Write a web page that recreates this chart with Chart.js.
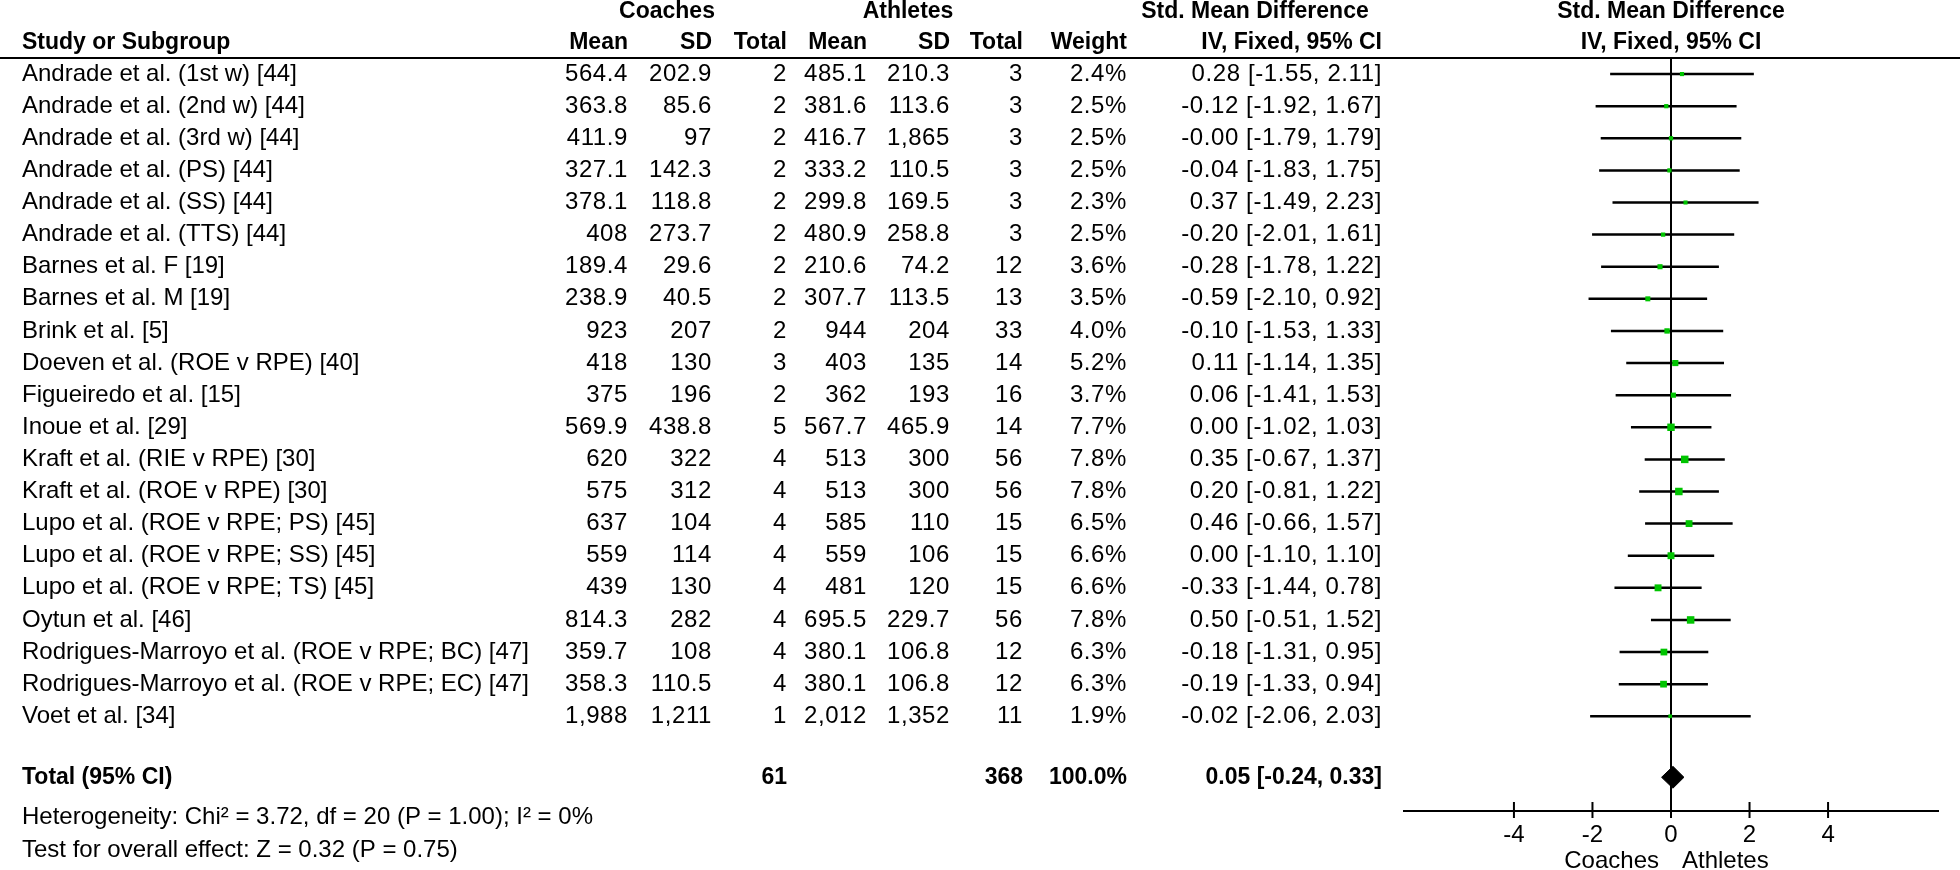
<!DOCTYPE html>
<html>
<head>
<meta charset="utf-8">
<title>Forest plot – Coaches vs Athletes</title>
<script src="https://cdn.jsdelivr.net/npm/chart.js@4.4.1/dist/chart.umd.min.js"></script>
<style>
  html, body { margin: 0; padding: 0; background: #fff; }
  #wrap { width: 1960px; height: 870px; }
</style>
</head>
<body>
<div id="wrap"><canvas id="forest" width="1960" height="870"></canvas></div>
<script>
// forest.js – Coaches vs Athletes, std. mean difference (IV, fixed)

const studies = [
  "Andrade et al. (1st w) [44]",
  "Andrade et al. (2nd w) [44]",
  "Andrade et al. (3rd w) [44]",
  "Andrade et al. (PS) [44]",
  "Andrade et al. (SS) [44]",
  "Andrade et al. (TTS) [44]",
  "Barnes et al. F [19]",
  "Barnes et al. M [19]",
  "Brink et al. [5]",
  "Doeven et al. (ROE v RPE) [40]",
  "Figueiredo et al. [15]",
  "Inoue et al. [29]",
  "Kraft et al. (RIE v RPE) [30]",
  "Kraft et al. (ROE v RPE) [30]",
  "Lupo et al. (ROE v RPE; PS) [45]",
  "Lupo et al. (ROE v RPE; SS) [45]",
  "Lupo et al. (ROE v RPE; TS) [45]",
  "Oytun et al. [46]",
  "Rodrigues-Marroyo et al. (ROE v RPE; BC) [47]",
  "Rodrigues-Marroyo et al. (ROE v RPE; EC) [47]",
  "Voet et al. [34]",
];

const coachMean = ["564.4","363.8","411.9","327.1","378.1","408","189.4","238.9","923","418","375","569.9","620","575","637","559","439","814.3","359.7","358.3","1,988"];
const coachSD   = ["202.9","85.6","97","142.3","118.8","273.7","29.6","40.5","207","130","196","438.8","322","312","104","114","130","282","108","110.5","1,211"];
const coachN    = [2,2,2,2,2,2,2,2,2,3,2,5,4,4,4,4,4,4,4,4,1];
const athMean   = ["485.1","381.6","416.7","333.2","299.8","480.9","210.6","307.7","944","403","362","567.7","513","513","585","559","481","695.5","380.1","380.1","2,012"];
const athSD     = ["210.3","113.6","1,865","110.5","169.5","258.8","74.2","113.5","204","135","193","465.9","300","300","110","106","120","229.7","106.8","106.8","1,352"];
const athN      = [3,3,3,3,3,3,12,13,33,14,16,14,56,56,15,15,15,56,12,12,11];
const weights   = [2.4,2.5,2.5,2.5,2.3,2.5,3.6,3.5,4.0,5.2,3.7,7.7,7.8,7.8,6.5,6.6,6.6,7.8,6.3,6.3,1.9];
const smd       = [0.28,-0.12,-0.00,-0.04,0.37,-0.20,-0.28,-0.59,-0.10,0.11,0.06,0.00,0.35,0.20,0.46,0.00,-0.33,0.50,-0.18,-0.19,-0.02];
const ciLow     = [-1.55,-1.92,-1.79,-1.83,-1.49,-2.01,-1.78,-2.10,-1.53,-1.14,-1.41,-1.02,-0.67,-0.81,-0.66,-1.10,-1.44,-0.51,-1.31,-1.33,-2.06];
const ciHigh    = [2.11,1.67,1.79,1.75,2.23,1.61,1.22,0.92,1.33,1.35,1.53,1.03,1.37,1.22,1.57,1.10,0.78,1.52,0.95,0.94,2.03];

const totalLabel  = "Total (95% CI)";
const totalCoachN = 61;
const totalAthN   = 368;
const totalWeight = 100.0;
const totalSmd    = 0.05;
const totalLow    = -0.24;
const totalHigh   = 0.33;
const totalRow    = 21.9;

const heterogeneity = "Heterogeneity: Chi\u00b2 = 3.72, df = 20 (P = 1.00); I\u00b2 = 0%";
const overallTest   = "Test for overall effect: Z = 0.32 (P = 0.75)";

const tickValues = [-4, -2, 0, 2, 4];
const favoursLeft  = "Coaches";
const favoursRight = "Athletes";

/* ──────────────────────────────────────────────────────────────
   Look & layout
   ────────────────────────────────────────────────────────────── */
const FONT_FAMILY = '"Liberation Sans", Arial, sans-serif';
const BOLD_SIZE   = 23;
const TEXT_SIZE   = 24;
const GREEN       = "#00c400";
const INK         = "#000";

// left edge of labels, right edges of the number columns
const COL = {
  study: 22,
  cMean: 628, cSD: 712, cN: 787,
  aMean: 867, aSD: 950, aN: 1023,
  weight: 1127, ci: 1382,
};

function fmt2(v) {
  if (Object.is(v, -0)) return "-0.00";
  return v.toFixed(2);
}

function effectText(est, lo, hi) {
  return `${fmt2(est)} [${fmt2(lo)}, ${fmt2(hi)}]`;
}

/* ──────────────────────────────────────────────────────────────
   Datasets built from the arrays above
   ────────────────────────────────────────────────────────────── */
const ciSegments = [];
studies.forEach((s, i) => {
  ciSegments.push({ x: ciLow[i], y: i }, { x: ciHigh[i], y: i }, { x: null, y: null });
});

const pointData = studies.map((s, i) => ({ x: smd[i], y: i }));

const diamondHalf = 0.34; // in row units
const diamondData = [
  { x: totalLow,  y: totalRow },
  { x: totalSmd,  y: totalRow - diamondHalf },
  { x: totalHigh, y: totalRow },
  { x: totalSmd,  y: totalRow + diamondHalf },
  { x: totalLow,  y: totalRow },
];

/* ──────────────────────────────────────────────────────────────
   Plugin: table text, header rule, zero line, tick marks
   ────────────────────────────────────────────────────────────── */
// kind: "bold" | "text" | "num"
function text(ctx, str, x, y, align, kind = "text") {
  if (kind === "bold") {
    ctx.font = `bold ${BOLD_SIZE}px ${FONT_FAMILY}`;
    ctx.letterSpacing = "0px";
  } else {
    ctx.font = `${TEXT_SIZE}px ${FONT_FAMILY}`;
    ctx.letterSpacing = kind === "num" ? "0.6px" : "0px";
  }
  ctx.textAlign = align;
  ctx.fillText(str, x, y);
}

const forestTable = {
  id: "forestTable",
  beforeDatasetsDraw(chart) {
    const { ctx, scales: { x } } = chart;
    const x0 = x.getPixelForValue(0);
    ctx.save();
    ctx.strokeStyle = INK;
    ctx.lineWidth = 2;
    ctx.beginPath();
    ctx.moveTo(x0, chart.chartArea.top);
    ctx.lineTo(x0, chart.chartArea.bottom);
    ctx.stroke();
    ctx.restore();
  },
  afterDraw(chart) {
    const { ctx, scales: { x, y } } = chart;
    const x0 = x.getPixelForValue(0);
    const area = chart.chartArea;

    ctx.save();
    ctx.fillStyle = INK;
    ctx.strokeStyle = INK;
    ctx.textBaseline = "middle";

    // header rule
    ctx.lineWidth = 2;
    ctx.beginPath();
    ctx.moveTo(0, area.top);
    ctx.lineTo(chart.width, area.top);
    ctx.stroke();

    // header, first line
    const h1 = 12, h2 = 43;
    text(ctx, "Coaches", 667, h1, "center", "bold");
    text(ctx, "Athletes", 908, h1, "center", "bold");
    text(ctx, "Std. Mean Difference", 1255, h1, "center", "bold");
    text(ctx, "Std. Mean Difference", x0, h1, "center", "bold");

    // header, second line
    text(ctx, "Study or Subgroup", COL.study, h2, "left", "bold");
    text(ctx, "Mean", COL.cMean, h2, "right", "bold");
    text(ctx, "SD", COL.cSD, h2, "right", "bold");
    text(ctx, "Total", COL.cN, h2, "right", "bold");
    text(ctx, "Mean", COL.aMean, h2, "right", "bold");
    text(ctx, "SD", COL.aSD, h2, "right", "bold");
    text(ctx, "Total", COL.aN, h2, "right", "bold");
    text(ctx, "Weight", COL.weight, h2, "right", "bold");
    text(ctx, "IV, Fixed, 95% CI", COL.ci, h2, "right", "bold");
    text(ctx, "IV, Fixed, 95% CI", x0, h2, "center", "bold");

    // study rows
    studies.forEach((s, i) => {
      const py = y.getPixelForValue(i);
      text(ctx, s, COL.study, py, "left");
      text(ctx, coachMean[i], COL.cMean, py, "right", "num");
      text(ctx, coachSD[i], COL.cSD, py, "right", "num");
      text(ctx, String(coachN[i]), COL.cN, py, "right", "num");
      text(ctx, athMean[i], COL.aMean, py, "right", "num");
      text(ctx, athSD[i], COL.aSD, py, "right", "num");
      text(ctx, String(athN[i]), COL.aN, py, "right", "num");
      text(ctx, weights[i].toFixed(1) + "%", COL.weight, py, "right", "num");
      text(ctx, effectText(smd[i], ciLow[i], ciHigh[i]), COL.ci, py, "right", "num");
    });

    // total row
    const ty = y.getPixelForValue(totalRow);
    text(ctx, totalLabel, COL.study, ty, "left", "bold");
    text(ctx, String(totalCoachN), COL.cN, ty, "right", "bold");
    text(ctx, String(totalAthN), COL.aN, ty, "right", "bold");
    text(ctx, totalWeight.toFixed(1) + "%", COL.weight, ty, "right", "bold");
    text(ctx, effectText(totalSmd, totalLow, totalHigh), COL.ci, ty, "right", "bold");

    // footnotes
    text(ctx, heterogeneity, COL.study, 817, "left");
    text(ctx, overallTest, COL.study, 850, "left");

    // tick marks crossing the axis
    ctx.lineWidth = 2;
    tickValues.forEach(v => {
      const px = x.getPixelForValue(v);
      ctx.beginPath();
      ctx.moveTo(px, area.bottom - 9);
      ctx.lineTo(px, area.bottom + 7);
      ctx.stroke();
    });

    // favours labels
    text(ctx, favoursLeft, x0 - 12, 861, "right");
    text(ctx, favoursRight, x0 + 11, 861, "left");

    ctx.restore();
  },
};

/* ──────────────────────────────────────────────────────────────
   Chart
   ────────────────────────────────────────────────────────────── */
const ctx = document.getElementById("forest").getContext("2d");

new Chart(ctx, {
  type: "scatter",
  data: {
    datasets: [
      {
        type: "line",
        label: "95% CI",
        data: ciSegments,
        borderColor: INK,
        borderWidth: 2.5,
        pointRadius: 0,
        spanGaps: false,
        order: 2,
      },
      {
        label: "Std. mean difference",
        data: pointData,
        pointStyle: "rect",
        pointRadius: weights.map(w => 1.9 * Math.sqrt(w)),
        backgroundColor: GREEN,
        borderWidth: 0,
        order: 1,
      },
      {
        type: "line",
        label: "Total",
        data: diamondData,
        borderColor: INK,
        backgroundColor: INK,
        borderWidth: 1,
        pointRadius: 0,
        tension: 0,
        fill: "shape",
        order: 0,
      },
    ],
  },
  options: {
    responsive: false,
    animation: false,
    devicePixelRatio: 1,
    layout: { padding: { left: 1404, right: 22, top: 58, bottom: 21 } },
    plugins: {
      legend: { display: false },
      tooltip: { enabled: false },
    },
    scales: {
      x: {
        type: "linear",
        min: -6.8,
        max: 6.8,
        afterBuildTicks: scale => { scale.ticks = tickValues.map(v => ({ value: v })); },
        afterFit: scale => { scale.height = 38; },
        grid: { display: false, drawTicks: false },
        border: { display: true, color: INK, width: 2 },
        ticks: {
          color: INK,
          padding: 10,
          font: { family: FONT_FAMILY, size: TEXT_SIZE },
        },
      },
      y: {
        type: "linear",
        display: false,
        reverse: true,
        min: -0.5,
        max: 22.95,
      },
    },
  },
  plugins: [forestTable],
});
</script>
</body>
</html>
